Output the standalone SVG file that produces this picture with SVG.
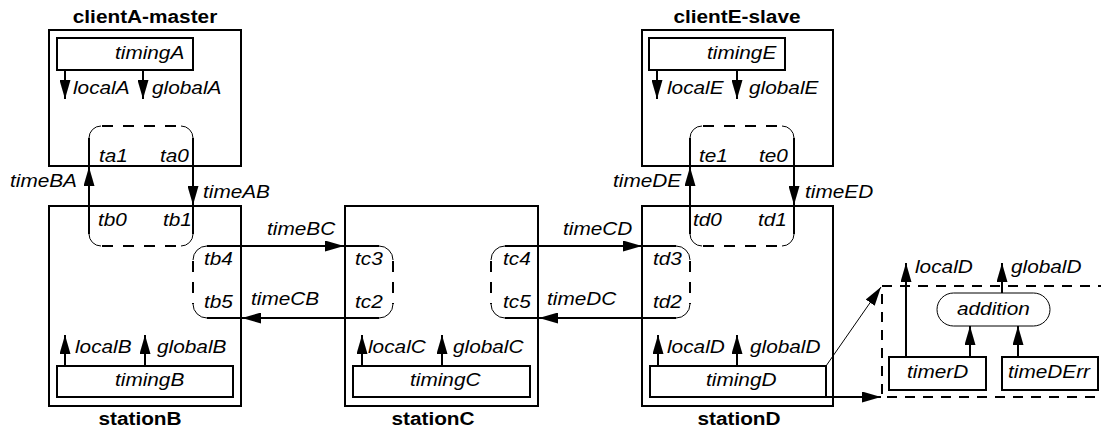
<svg xmlns="http://www.w3.org/2000/svg" width="1101" height="429" viewBox="0 0 1101 429">
<style>
text{font-family:"Liberation Sans",Arial,sans-serif;font-size:18px;fill:#000}
.t{font-style:italic}
.b{font-weight:bold;text-anchor:middle}
.box{fill:none;stroke:#000;stroke-width:2}
.ln{fill:none;stroke:#000;stroke-width:2}
.ar{fill:none;stroke:#000;stroke-width:2;marker-end:url(#ah)}
.thin{fill:none;stroke:#000;stroke-width:1}
.dash{fill:none;stroke:#000;stroke-width:2;stroke-dasharray:10 8}
.pd{fill:none;stroke:#000;stroke-width:2;stroke-dasharray:11 10}
</style>
<defs>
<marker id="ah" markerWidth="19" markerHeight="11" refX="19" refY="5.5" orient="auto" markerUnits="userSpaceOnUse" viewBox="0 0 19 11"><path d="M0,0L19,5.5L0,11z" fill="#000"/></marker>
</defs>
<rect width="1101" height="429" fill="#fff"/>

<g id="clientA">
<rect class="box" x="49" y="30" width="192" height="136"/>
<text class="b" x="145" y="23" textLength="144.5" lengthAdjust="spacingAndGlyphs">clientA-master</text>
<rect class="box" x="57" y="38" width="136" height="32"/>
<text class="t" x="115" y="59" textLength="69.3" lengthAdjust="spacingAndGlyphs">timingA</text>
<line class="ar" x1="65" y1="70" x2="65" y2="99"/>
<line class="ar" x1="143" y1="70" x2="143" y2="99"/>
<text class="t" x="73" y="94" textLength="56.6" lengthAdjust="spacingAndGlyphs">localA</text>
<text class="t" x="152" y="94" textLength="69.4" lengthAdjust="spacingAndGlyphs">globalA</text>
<text class="t" x="99" y="162" textLength="28.9" lengthAdjust="spacingAndGlyphs">ta1</text>
<text class="t" x="160" y="162" textLength="28.9" lengthAdjust="spacingAndGlyphs">ta0</text>
</g>

<g id="clientE">
<rect class="box" x="642" y="30" width="191" height="136"/>
<text class="b" x="737" y="23" textLength="127.2" lengthAdjust="spacingAndGlyphs">clientE-slave</text>
<rect class="box" x="649" y="38" width="136" height="32"/>
<text class="t" x="707" y="59" textLength="69.3" lengthAdjust="spacingAndGlyphs">timingE</text>
<line class="ar" x1="657" y1="70" x2="657" y2="99"/>
<line class="ar" x1="737" y1="70" x2="737" y2="99"/>
<text class="t" x="667" y="94" textLength="56.6" lengthAdjust="spacingAndGlyphs">localE</text>
<text class="t" x="749" y="94" textLength="69.4" lengthAdjust="spacingAndGlyphs">globalE</text>
<text class="t" x="699" y="162" textLength="28.9" lengthAdjust="spacingAndGlyphs">te1</text>
<text class="t" x="759" y="162" textLength="28.9" lengthAdjust="spacingAndGlyphs">te0</text>
</g>

<g id="stationB">
<rect class="box" x="49" y="206" width="192" height="200"/>
<text class="b" x="140" y="425" textLength="83.2" lengthAdjust="spacingAndGlyphs">stationB</text>
<text class="t" x="98" y="226" textLength="28.9" lengthAdjust="spacingAndGlyphs">tb0</text>
<text class="t" x="163" y="226" textLength="28.9" lengthAdjust="spacingAndGlyphs">tb1</text>
<text class="t" x="204" y="265" textLength="28.9" lengthAdjust="spacingAndGlyphs">tb4</text>
<text class="t" x="204" y="308" textLength="28.9" lengthAdjust="spacingAndGlyphs">tb5</text>
<rect class="box" x="57" y="366" width="176" height="31"/>
<text class="t" x="115" y="386" textLength="69.3" lengthAdjust="spacingAndGlyphs">timingB</text>
<line class="ar" x1="65" y1="366" x2="65" y2="335"/>
<line class="ar" x1="145" y1="366" x2="145" y2="335"/>
<text class="t" x="75" y="353" textLength="56.6" lengthAdjust="spacingAndGlyphs">localB</text>
<text class="t" x="157" y="353" textLength="69.4" lengthAdjust="spacingAndGlyphs">globalB</text>
</g>

<g id="stationC">
<rect class="box" x="345" y="206" width="193" height="200"/>
<text class="b" x="433" y="425" textLength="83.2" lengthAdjust="spacingAndGlyphs">stationC</text>
<text class="t" x="355" y="265" textLength="27.7" lengthAdjust="spacingAndGlyphs">tc3</text>
<text class="t" x="355" y="308" textLength="27.7" lengthAdjust="spacingAndGlyphs">tc2</text>
<text class="t" x="503" y="265" textLength="27.7" lengthAdjust="spacingAndGlyphs">tc4</text>
<text class="t" x="503" y="308" textLength="27.7" lengthAdjust="spacingAndGlyphs">tc5</text>
<rect class="box" x="353" y="366" width="177" height="31"/>
<text class="t" x="410" y="386" textLength="70.5" lengthAdjust="spacingAndGlyphs">timingC</text>
<line class="ar" x1="362" y1="366" x2="362" y2="335"/>
<line class="ar" x1="442" y1="366" x2="442" y2="335"/>
<text class="t" x="368" y="353" textLength="57.8" lengthAdjust="spacingAndGlyphs">localC</text>
<text class="t" x="453" y="353" textLength="70.5" lengthAdjust="spacingAndGlyphs">globalC</text>
</g>

<g id="stationD">
<rect class="box" x="642" y="206" width="191" height="200"/>
<text class="b" x="739" y="425" textLength="83.2" lengthAdjust="spacingAndGlyphs">stationD</text>
<text class="t" x="693" y="226" textLength="28.9" lengthAdjust="spacingAndGlyphs">td0</text>
<text class="t" x="758" y="226" textLength="28.9" lengthAdjust="spacingAndGlyphs">td1</text>
<text class="t" x="653" y="265" textLength="28.9" lengthAdjust="spacingAndGlyphs">td3</text>
<text class="t" x="653" y="308" textLength="28.9" lengthAdjust="spacingAndGlyphs">td2</text>
<rect class="box" x="650" y="366" width="176" height="31"/>
<text class="t" x="706" y="386" textLength="70.5" lengthAdjust="spacingAndGlyphs">timingD</text>
<line class="ar" x1="658" y1="366" x2="658" y2="335"/>
<line class="ar" x1="737" y1="366" x2="737" y2="335"/>
<text class="t" x="667" y="353" textLength="57.8" lengthAdjust="spacingAndGlyphs">localD</text>
<text class="t" x="750" y="353" textLength="70.5" lengthAdjust="spacingAndGlyphs">globalD</text>
</g>

<g id="timingD-detail">
<rect class="dash" x="882" y="286" width="240" height="111"/>
<rect class="thin" x="937" y="293" width="113" height="33" rx="16.5"/>
<text class="t" x="957" y="315" textLength="72.8" lengthAdjust="spacingAndGlyphs">addition</text>
<rect class="box" x="889" y="357" width="97" height="33"/>
<text class="t" x="907" y="378" textLength="61.2" lengthAdjust="spacingAndGlyphs">timerD</text>
<rect class="box" x="1002" y="357" width="96" height="33"/>
<text class="t" x="1008" y="378" textLength="82" lengthAdjust="spacingAndGlyphs">timeDErr</text>
<line class="ar" x1="906" y1="357" x2="906" y2="263"/>
<line class="ar" x1="1002" y1="293" x2="1002" y2="263"/>
<line class="ar" x1="970" y1="357" x2="970" y2="326"/>
<line class="ar" x1="1018" y1="357" x2="1018" y2="326"/>
<text class="t" x="915" y="273" textLength="57.8" lengthAdjust="spacingAndGlyphs">localD</text>
<text class="t" x="1011" y="273" textLength="70.5" lengthAdjust="spacingAndGlyphs">globalD</text>
</g>

<g id="connectors">
<path class="pd" d="M102,126H181M102,246H181"/>
<path class="thin" d="M89,138A12,12 0 0 1 101,126M181,126A12,12 0 0 1 193,138M89,234A12,12 0 0 0 101,246M193,234A12,12 0 0 1 181,246"/>
<path class="ln" d="M89,138V234M193,138V234"/>
<line class="ar" x1="89" y1="200" x2="89" y2="167"/>
<line class="ar" x1="193" y1="180" x2="193" y2="205"/>
<text class="t" x="10" y="187" textLength="67" lengthAdjust="spacingAndGlyphs">timeBA</text>
<text class="t" x="203" y="198" textLength="67" lengthAdjust="spacingAndGlyphs">timeAB</text>
<path class="pd" d="M703,126H782M703,246H782"/>
<path class="thin" d="M690,138A12,12 0 0 1 702,126M782,126A12,12 0 0 1 794,138M690,234A12,12 0 0 0 702,246M794,234A12,12 0 0 1 782,246"/>
<path class="ln" d="M690,138V234M794,138V234"/>
<line class="ar" x1="690" y1="200" x2="690" y2="167"/>
<line class="ar" x1="794" y1="180" x2="794" y2="205"/>
<text class="t" x="613" y="187" textLength="68.2" lengthAdjust="spacingAndGlyphs">timeDE</text>
<text class="t" x="805" y="198" textLength="68.2" lengthAdjust="spacingAndGlyphs">timeED</text>
<path class="pd" d="M193,261V304M393,261V304"/>
<path class="thin" d="M193,260A14,14 0 0 1 207,246M193,304A14,14 0 0 0 207,318M379,246A14,14 0 0 1 393,260M393,304A14,14 0 0 1 379,318"/>
<path class="ln" d="M207,246H379M207,318H379"/>
<line class="ar" x1="310" y1="246" x2="344" y2="246"/>
<line class="ar" x1="280" y1="318" x2="242" y2="318"/>
<text class="t" x="267" y="235" textLength="68.2" lengthAdjust="spacingAndGlyphs">timeBC</text>
<text class="t" x="251" y="305" textLength="68.2" lengthAdjust="spacingAndGlyphs">timeCB</text>
<path class="pd" d="M491,261V304M690,261V304"/>
<path class="thin" d="M491,260A14,14 0 0 1 505,246M491,304A14,14 0 0 0 505,318M676,246A14,14 0 0 1 690,260M690,304A14,14 0 0 1 676,318"/>
<path class="ln" d="M505,246H676M505,318H676"/>
<line class="ar" x1="610" y1="246" x2="642" y2="246"/>
<line class="ar" x1="580" y1="318" x2="539" y2="318"/>
<text class="t" x="563" y="235" textLength="69.3" lengthAdjust="spacingAndGlyphs">timeCD</text>
<text class="t" x="547" y="305" textLength="69.3" lengthAdjust="spacingAndGlyphs">timeDC</text>
<line class="thin" x1="826" y1="366" x2="881" y2="287" marker-end="url(#ah)"/>
<line class="ar" x1="826" y1="397" x2="881" y2="397"/>
</g>
</svg>
